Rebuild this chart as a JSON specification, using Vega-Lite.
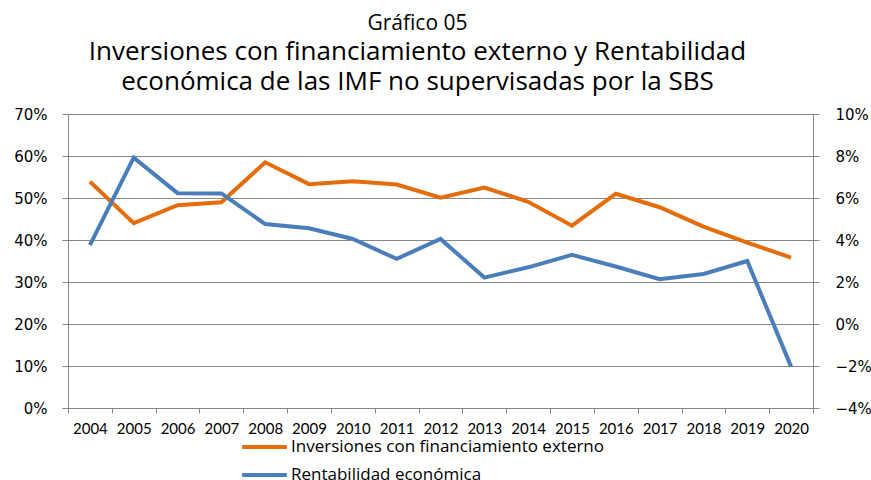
{
  "$schema": "https://vega.github.io/schema/vega-lite/v6.json",
  "autosize": "none",
  "width": 745,
  "height": 294,
  "padding": {"left": 68, "top": 114, "right": 58, "bottom": 72},
  "background": "white",
  "title": {
    "text": "Gráfico 05",
    "subtitle": ["Inversiones con financiamiento externo y Rentabilidad", "económica de las IMF no supervisadas por la SBS"],
    "anchor": "middle",
    "dx": -23,
    "font": "Open Sans",
    "fontSize": 21,
    "fontWeight": "normal",
    "color": "#000000",
    "subtitleFont": "Open Sans",
    "subtitleFontSize": 26,
    "subtitleColor": "#000000",
    "subtitleLineHeight": 30,
    "subtitlePadding": 5,
    "offset": 12
  },
  "data": {
    "values": [
      {"year": "2004", "inv": 0.539, "rent": 0.0376},
      {"year": "2005", "inv": 0.440, "rent": 0.0792},
      {"year": "2006", "inv": 0.483, "rent": 0.0623},
      {"year": "2007", "inv": 0.490, "rent": 0.0622},
      {"year": "2008", "inv": 0.585, "rent": 0.0476},
      {"year": "2009", "inv": 0.533, "rent": 0.0456},
      {"year": "2010", "inv": 0.540, "rent": 0.0405},
      {"year": "2011", "inv": 0.532, "rent": 0.0310},
      {"year": "2012", "inv": 0.501, "rent": 0.0405},
      {"year": "2013", "inv": 0.525, "rent": 0.0221},
      {"year": "2014", "inv": 0.491, "rent": 0.0270},
      {"year": "2015", "inv": 0.434, "rent": 0.0329},
      {"year": "2016", "inv": 0.510, "rent": 0.0274},
      {"year": "2017", "inv": 0.478, "rent": 0.0213},
      {"year": "2018", "inv": 0.432, "rent": 0.0238},
      {"year": "2019", "inv": 0.394, "rent": 0.0300},
      {"year": "2020", "inv": 0.358, "rent": -0.0203}
    ]
  },
  "encoding": {
    "x": {
      "field": "year",
      "type": "ordinal",
      "scale": {"type": "band", "paddingInner": 0, "paddingOuter": 0},
      "axis": {
        "title": null,
        "labelAngle": 0,
        "labelFont": "Lato",
        "labelFontSize": 15,
        "labelColor": "#000000",
        "labelPadding": 8,
        "labelOverlap": false,
        "domainColor": "#868686",
        "tickColor": "#868686",
        "tickSize": 5,
        "tickBand": "extent",
        "grid": false
      }
    }
  },
  "layer": [
    {
      "mark": {"type": "line", "strokeWidth": 4},
      "encoding": {
        "y": {
          "field": "inv",
          "type": "quantitative",
          "scale": {"domain": [0, 0.7], "nice": false, "zero": false},
          "axis": {
            "title": null,
            "orient": "left",
            "format": ".0%",
            "values": [0, 0.1, 0.2, 0.3, 0.4, 0.5, 0.6, 0.7],
            "labelFont": "DejaVu Sans",
            "labelFontSize": 15,
            "labelColor": "#000000",
            "labelPadding": 15,
            "tickSize": 6,
            "tickColor": "#868686",
            "domainColor": "#868686",
            "grid": true,
            "gridColor": "#868686",
            "gridOpacity": 1
          }
        },
        "color": {
          "datum": "Inversiones con financiamiento externo",
          "scale": {
            "domain": ["Inversiones con financiamiento externo", "Rentabilidad económica"],
            "range": ["#E46C0A", "#4A7EBB"]
          },
          "legend": {
            "title": null,
            "orient": "none",
            "legendX": 172,
            "legendY": 319,
            "direction": "vertical",
            "symbolType": "stroke",
            "symbolStrokeWidth": 4,
            "symbolSize": 2000,
            "labelFont": "Open Sans",
            "labelFontSize": 17,
            "labelColor": "#000000",
            "labelLimit": 600,
            "labelOffset": 2,
            "clipHeight": 28,
            "rowPadding": 0
          }
        }
      }
    },
    {
      "mark": {"type": "line", "strokeWidth": 4},
      "encoding": {
        "y": {
          "field": "rent",
          "type": "quantitative",
          "scale": {"domain": [-0.04, 0.1], "nice": false, "zero": false},
          "axis": {
            "title": null,
            "orient": "right",
            "format": ".0%",
            "values": [-0.04, -0.02, 0, 0.02, 0.04, 0.06, 0.08, 0.1],
            "labelFont": "DejaVu Sans",
            "labelFontSize": 15,
            "labelColor": "#000000",
            "labelPadding": 16,
            "tickSize": 6,
            "tickColor": "#868686",
            "domainColor": "#868686",
            "grid": false
          }
        },
        "color": {"datum": "Rentabilidad económica"}
      }
    }
  ],
  "resolve": {"scale": {"y": "independent"}, "axis": {"y": "independent"}},
  "config": {
    "view": {"stroke": null}
  }
}
